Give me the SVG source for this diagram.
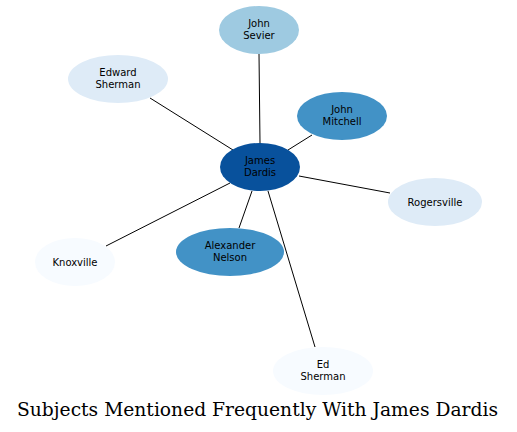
<svg xmlns="http://www.w3.org/2000/svg" width="517" height="432" viewBox="0 0 517 432">
<style>
.n text{font-family:"DejaVu Sans",sans-serif;font-size:10px;text-anchor:middle;fill:#000}
.e line{stroke:#000;stroke-width:1}
.title{font-family:"DejaVu Serif",serif;font-size:18.7px;text-anchor:middle;fill:#000}
</style>
<rect width="517" height="432" fill="#fff"/>
<g class="e">
<line x1="260" y1="143" x2="259" y2="54"/>
<line x1="233" y1="150" x2="150" y2="98"/>
<line x1="288" y1="150" x2="312" y2="135"/>
<line x1="299" y1="176" x2="390" y2="193"/>
<line x1="230" y1="183" x2="106" y2="246"/>
<line x1="252" y1="191" x2="239" y2="228"/>
<line x1="268" y1="191" x2="315" y2="347"/>
</g>
<g class="n" id="john-sevier"><ellipse cx="259" cy="30" rx="40" ry="24" fill="#9ecae1"/><text x="259" y="27">John</text><text x="259" y="38.5">Sevier</text></g>
<g class="n" id="edward-sherman"><ellipse cx="118" cy="79" rx="50" ry="24" fill="#deebf7"/><text x="118" y="76">Edward</text><text x="118" y="87.5">Sherman</text></g>
<g class="n" id="james-dardis"><ellipse cx="260" cy="167" rx="40" ry="24" fill="#08519c"/><text x="260" y="164">James</text><text x="260" y="175.5">Dardis</text></g>
<g class="n" id="john-mitchell"><ellipse cx="342" cy="116" rx="45" ry="24" fill="#4292c6"/><text x="342" y="113">John</text><text x="342" y="124.5">Mitchell</text></g>
<g class="n" id="rogersville"><ellipse cx="435" cy="202" rx="47" ry="24" fill="#deebf7"/><text x="435" y="205.5">Rogersville</text></g>
<g class="n" id="knoxville"><ellipse cx="75" cy="262" rx="40" ry="24" fill="#f7fbff"/><text x="75" y="265.5">Knoxville</text></g>
<g class="n" id="alexander-nelson"><ellipse cx="230" cy="252" rx="54" ry="24" fill="#4292c6"/><text x="230" y="249">Alexander</text><text x="230" y="260.5">Nelson</text></g>
<g class="n" id="ed-sherman"><ellipse cx="323" cy="371" rx="50" ry="24" fill="#f7fbff"/><text x="323" y="368">Ed</text><text x="323" y="379.5">Sherman</text></g>
<text class="title" x="257.5" y="416">Subjects Mentioned Frequently With James Dardis</text>
</svg>
